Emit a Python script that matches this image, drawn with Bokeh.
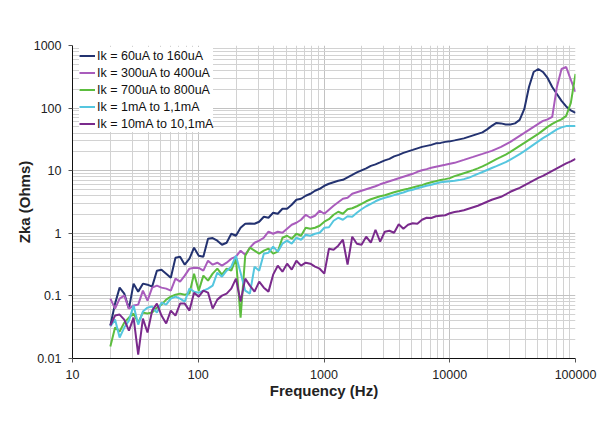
from bokeh.plotting import figure
from bokeh.models import Range1d, FixedTicker, CustomJSTickFormatter
from bokeh.embed import file_html
from bokeh.resources import INLINE

# ---------------- data ----------------
freq = [20, 21.8, 23.7, 25.8, 28.1, 30.6, 33.3, 36.3, 39.5, 43.0,
        46.9, 51.0, 55.6, 60.5, 65.9, 71.7, 78.1, 85.1, 92.6, 100.9,
        109.8, 119.6, 130.2, 141.8, 154.4, 168.1, 183.1, 199.4, 217.1, 236.4,
        257.4, 280.3, 305.2, 332.3, 361.9, 394.0, 429.0, 467.2, 508.7, 553.9,
        603.2, 656.9, 715.3, 778.9, 848.2, 923.6, 1006, 1095, 1192, 1298,
        1414, 1540, 1677, 1826, 1988, 2165, 2358, 2567, 2795, 3044,
        3314, 3609, 3930, 4279, 4660, 5074, 5525, 6016, 6551, 7133,
        7767, 8458, 9210, 10029, 10920, 11891, 12948, 14099, 15353, 16718,
        18204, 19823, 21585, 23504, 25593, 27869, 30346, 33044, 35982, 39181,
        42664, 46458, 50588, 55085, 59983, 65315, 71122, 77445, 84330, 91826,
        100000]

zka_60uA = [0.0336, 0.0753, 0.1355, 0.1087, 0.0627, 0.157, 0.117, 0.157, 0.151, 0.1406,
            0.253, 0.2625, 0.2266, 0.1956, 0.408, 0.423, 0.315, 0.393, 0.589, 0.439,
            0.423, 0.819, 0.84, 0.762, 0.657, 0.707, 0.985, 0.915, 1.227, 1.421,
            1.43, 1.42, 1.530, 1.838, 1.771, 2.128, 2.052, 2.466, 2.47, 2.856,
            3.431, 3.560, 3.975, 4.277, 4.777, 5.14, 5.74, 6.18, 6.527, 6.896,
            7.15, 7.842, 8.593, 9.42, 10.14, 10.91, 11.96, 12.64, 13.60, 14.64,
            15.46, 16.96, 17.91, 19.27, 20.37, 21.52, 22.75, 24.04, 24.93, 25.85,
            27.33, 27.82, 28.87, 29.42, 30.51, 31.66, 32.84, 34.69, 36.66, 38.73,
            40.93, 45.70, 51.97, 58.0, 56.97, 54.91, 54.9, 57.0, 64.75, 97.0,
            217.7, 377.7, 421.5, 377.7, 303.0, 217.7, 168.3, 130.2, 106.3, 91.8,
            83.8]

zka_300uA = [0.0905, 0.0627, 0.0905, 0.101, 0.0627, 0.070, 0.0726, 0.1214, 0.0841, 0.1355,
             0.146, 0.1355, 0.1306, 0.1214, 0.1886, 0.169, 0.2106, 0.2723, 0.2825, 0.28,
             0.253, 0.365, 0.3154, 0.339, 0.304, 0.339, 0.393, 0.423, 0.5275, 0.455,
             0.589, 0.707, 0.762, 0.850, 1.060, 0.985, 1.06, 1.021, 1.183, 1.370,
             1.474, 1.646, 1.978, 1.771, 1.907, 2.292, 2.052, 2.377, 2.754, 3.131,
             3.560, 3.693, 4.277, 4.520, 4.777, 5.047, 5.331, 5.636, 6.065, 6.406,
             6.771, 7.151, 7.559, 7.986, 8.439, 8.916, 9.601, 10.14, 10.60, 11.11,
             11.53, 11.96, 12.40, 12.87, 13.35, 14.11, 14.90, 15.75, 16.64, 17.59,
             18.58, 19.64, 20.75, 22.33, 24.04, 26.34, 28.87, 32.24, 35.99, 40.16,
             44.85, 50.12, 55.92, 62.44, 65.97, 72.35, 217.7, 421.5, 453.6, 281.3,
             181.2]

zka_700uA = [0.01553, 0.03118, 0.02694, 0.03746, 0.04502, 0.05215, 0.03746, 0.05409, 0.05215, 0.0541,
             0.065, 0.0726, 0.0872, 0.0974, 0.1047, 0.1087, 0.1047, 0.1087, 0.2266, 0.1214,
             0.2106, 0.1753, 0.2266, 0.2723, 0.2184, 0.2723, 0.2531, 0.393, 0.04502, 0.439,
             0.589, 0.5275, 0.4724, 0.5275, 0.5676, 0.4724, 0.5087, 0.850, 0.915, 0.819,
             0.985, 0.915, 1.227, 1.183, 1.227, 1.321, 1.530, 1.677, 1.978, 2.210,
             2.052, 2.422, 2.512, 2.704, 2.963, 3.249, 3.496, 3.693, 3.903, 4.049,
             4.277, 4.520, 4.725, 4.955, 5.14, 5.393, 5.636, 5.889, 6.245, 6.527,
             6.821, 7.101, 7.340, 7.613, 8.196, 8.593, 9.083, 9.601, 10.21, 10.91,
             11.74, 12.73, 14.01, 15.30, 16.64, 18.12, 20.01, 22.33, 24.93, 27.82,
             31.07, 34.69, 38.73, 44.05, 50.12, 55.92, 61.31, 65.97, 75.03, 121.0,
             350.8]

zka_1mA = [0.03237, 0.04183, 0.02162, 0.0312, 0.04034, 0.06998, 0.03481, 0.05616, 0.065, 0.06748,
           0.0541, 0.0781, 0.0726, 0.0905, 0.0974, 0.0905, 0.08108, 0.1306, 0.117, 0.1127,
           0.1214, 0.1306, 0.146, 0.235, 0.2031, 0.2531, 0.2932, 0.439, 0.235, 0.1214,
           0.1087, 0.2932, 0.2531, 0.4724, 0.49, 0.6112, 0.5087, 0.682, 0.7616, 0.682,
           0.850, 0.790, 0.949, 0.915, 0.985, 1.021, 1.227, 1.25, 1.587, 1.771,
           1.646, 1.872, 1.839, 2.128, 2.422, 2.704, 2.963, 3.249, 3.496, 3.693,
           3.874, 4.078, 4.277, 4.488, 4.777, 4.955, 5.237, 5.493, 5.74, 5.953,
           6.245, 6.527, 6.650, 6.771, 6.896, 7.075, 7.340, 7.696, 8.286, 8.916,
           9.527, 10.25, 11.03, 11.83, 12.73, 13.70, 15.07, 16.64, 18.38, 20.52,
           23.16, 26.15, 29.42, 33.08, 36.66, 40.93, 45.70, 49.19, 51.59, 51.97,
           52.0]

zka_10mA = [0.0336, 0.0485, 0.0503, 0.0418, 0.0279, 0.045, 0.01157, 0.0434, 0.026, 0.0582,
            0.0753, 0.0485, 0.0362, 0.0582, 0.0485, 0.0753, 0.0753, 0.0582, 0.1127, 0.0974,
            0.1214, 0.1127, 0.0627, 0.0872, 0.101, 0.1087, 0.1306, 0.1886, 0.0811, 0.1886,
            0.146, 0.117, 0.169, 0.1355, 0.117, 0.2184, 0.304, 0.244, 0.327, 0.2625,
            0.365, 0.304, 0.339, 0.327, 0.293, 0.272, 0.2266, 0.5676, 0.547, 0.634,
            0.790, 0.3154, 0.8825, 0.682, 0.657, 0.8825, 0.707, 1.140, 0.7344, 1.06,
            1.10, 1.021, 1.396, 1.183, 1.370, 1.448, 1.421, 1.646, 1.771, 1.753,
            1.872, 1.907, 1.942, 2.090, 2.185, 2.250, 2.334, 2.466, 2.606, 2.754,
            2.963, 3.191, 3.431, 3.627, 3.833, 4.200, 4.607, 4.955, 5.331, 5.846,
            6.406, 7.024, 7.696, 8.286, 9.083, 9.956, 10.91, 11.96, 13.11, 14.11,
            15.46]

series_labels = ["Ik = 60uA to 160uA", "Ik = 300uA to 400uA", "Ik = 700uA to 800uA",
                 "Ik = 1mA to 1,1mA", "Ik = 10mA to 10,1mA"]
series_values = [zka_60uA, zka_300uA, zka_700uA, zka_1mA, zka_10mA]
series_colors = ["#233270", "#a95cbc", "#5cbd3e", "#55c6df", "#7a2a8c"]

x_major = [10, 100, 1000, 10000, 100000]
y_major = [0.01, 0.1, 1, 10, 100, 1000]
mantissas = [2, 3, 4, 5, 6, 7, 8, 9]
x_minor = [m * t for t in x_major[:-1] for m in mantissas]
y_minor = [m * t for t in y_major[:-1] for m in mantissas]

# ---------------- figure ----------------
FONT = "Liberation Sans"
p = figure(width=604, height=436, x_axis_type="log", y_axis_type="log",
           x_range=Range1d(10, 100000), y_range=Range1d(0.01, 1000),
           output_backend="svg", toolbar_location=None,
           min_border_left=72, min_border_right=29, min_border_top=45, min_border_bottom=78)
p.outline_line_color = None
p.background_fill_color = "white"
p.border_fill_color = "white"

xt = FixedTicker(ticks=x_major, minor_ticks=x_minor)
yt = FixedTicker(ticks=y_major, minor_ticks=y_minor)
p.xaxis.ticker = xt
p.yaxis.ticker = yt
p.xgrid.ticker = xt
p.ygrid.ticker = yt

fmt = CustomJSTickFormatter(code="return String(Number(tick.toPrecision(6)));")
for ax in (p.xaxis, p.yaxis):
    ax.formatter = fmt
    ax.axis_line_color = "#111111"
    ax.axis_line_width = 1
    ax.major_tick_in = 0
    ax.major_tick_out = 4
    ax.major_tick_line_color = "#555555"
    ax.minor_tick_line_color = None
    ax.major_label_text_font = FONT
    ax.major_label_text_font_size = "12.5px"
    ax.major_label_text_color = "#222222"
    ax.major_label_standoff = 7
    ax.axis_label_text_font = FONT
    ax.axis_label_text_font_size = "15px"
    ax.axis_label_text_font_style = "bold"
    ax.axis_label_text_color = "#222222"
    ax.axis_label_standoff = 0

p.yaxis.axis_label_standoff = -2
p.xaxis.axis_label = "Frequency (Hz)"
p.yaxis.axis_label = "Zka (Ohms)"

for g in (p.xgrid, p.ygrid):
    g.grid_line_color = "#c2c2c2"
    g.grid_line_width = 1
    g.minor_grid_line_color = "#d2d2d2"
    g.minor_grid_line_width = 1

for lab, vals, col in zip(series_labels, series_values, series_colors):
    p.line(freq, vals, line_color=col, line_width=2, legend_label=lab)

leg = p.legend[0]
leg.location = (7, 226)
leg.padding = 8
leg.margin = 0
leg.spacing = 0
leg.glyph_width = 16
leg.glyph_height = 17
leg.label_height = 17
leg.label_width = 106
leg.label_standoff = 2
leg.label_text_font = FONT
leg.label_text_font_size = "12.5px"
leg.label_text_color = "#111111"
leg.border_line_color = None
leg.background_fill_color = "white"
leg.background_fill_alpha = 1.0

open("out.html", "w").write(file_html(p, INLINE))
